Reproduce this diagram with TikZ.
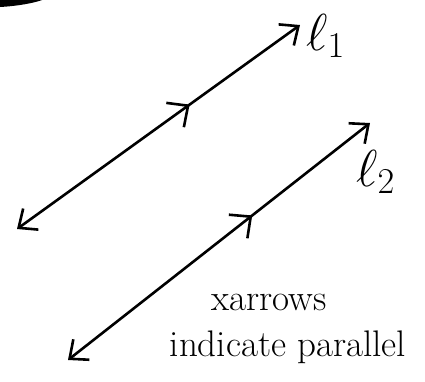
\RequirePackage{fix-cm}
\documentclass[tikz,border=0pt]{standalone}
\usepackage{fontspec}
\usetikzlibrary{arrows.meta,decorations.markings}
\tikzset{
  parline/.style={line width=2.6pt, line cap=round,
    {Straight Barb[length=15pt,width=26pt,line width=2.6pt]}-{Straight Barb[length=15pt,width=26pt,line width=2.6pt]},
    postaction={decorate},
    decoration={markings,
      mark=at position 0.61 with {\arrow{Straight Barb[length=16pt,width=30pt,line width=2.6pt]}}}},
  lbl/.style={font=\fontsize{52}{52}\selectfont, inner sep=0pt},
  note/.style={font=\fontsize{37}{37}\selectfont, inner sep=0pt, align=center}
}
\begin{document}
\begin{tikzpicture}[x=1pt,y=-1pt]
  \useasboundingbox (0,0) rectangle (425,381);
  \clip (0,0) rectangle (425,381);
  \fill (0,0) -- (42,0) .. controls (34,3) and (18,6) .. (0,7) -- cycle;
  % first line
  \coordinate (s1) at (17,229);
  \coordinate (e1) at (300,25);
  \draw[parline] (s1) -- (e1);
  \node[lbl, anchor=west] (l1) at (306,36) {$\ell_1$};
  % second line
  \coordinate (s2) at (68,360);
  \coordinate (e2) at (370,123);
  \draw[parline] (s2) -- (e2);
  \node[lbl, anchor=west] (l2) at (356,172) {$\ell_2$};
  % note
  \node[note] (n1) at (269,302) {xarrows};
  \node[note] (n2) at (288,347) {indicate parallel};
\end{tikzpicture}
\end{document}
